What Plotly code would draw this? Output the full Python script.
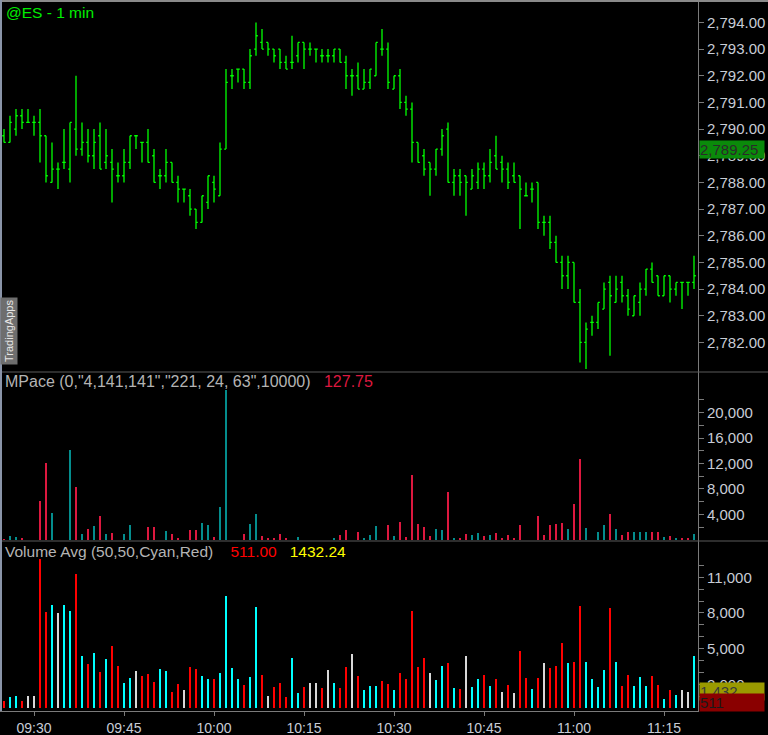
import pandas as pd
import plotly.graph_objects as go
from plotly.subplots import make_subplots

# ---------------- data ----------------
start_time = "2018-06-01 09:25"
n_bars = 116
times = pd.date_range(start_time, periods=n_bars, freq="1min")

opens = [2789.75, 2789.5, 2790.0, 2790.5, 2790.25, 2790.25, 2790.25, 2789.75, 2788.0, 2788.5,
         2788.75, 2788.5, 2790.0, 2789.25, 2789.5, 2789.0, 2789.75, 2788.75, 2788.75, 2788.25,
         2788.25, 2788.75, 2789.75, 2789.5, 2789.5, 2789.0, 2788.25, 2788.25, 2788.75, 2788.0,
         2787.75, 2787.5, 2787.0, 2786.5, 2787.25, 2788.0, 2787.5, 2789.25, 2792.0, 2792.25,
         2792.25, 2791.75, 2793.0, 2793.25, 2793.25, 2793.0, 2793.0, 2792.5, 2792.5, 2792.75,
         2793.25, 2793.0, 2793.0, 2792.75, 2792.75, 2792.75, 2793.0, 2792.5, 2792.0, 2792.0,
         2791.5, 2791.75, 2792.0, 2793.0, 2793.0, 2791.5, 2792.0, 2791.0, 2790.75, 2789.5,
         2789.0, 2788.75, 2788.5, 2789.25, 2790.0, 2788.0, 2788.25, 2788.25, 2787.75, 2788.0,
         2788.5, 2788.25, 2789.0, 2788.75, 2788.5, 2788.25, 2788.25, 2787.5, 2787.75, 2788.0,
         2786.5, 2786.5, 2785.75, 2785.0, 2784.5, 2785.0, 2783.5, 2782.0, 2782.75, 2782.75,
         2783.25, 2784.25, 2783.5, 2784.25, 2783.75, 2783.0, 2783.5, 2784.0, 2784.75, 2784.5,
         2783.75, 2784.5, 2784.0, 2784.25, 2784.25, 2784.25]
highs = [2790.0, 2790.5, 2790.75, 2790.75, 2790.75, 2790.5, 2790.75, 2789.75, 2789.5, 2788.75,
         2790.0, 2790.25, 2792.0, 2790.25, 2790.0, 2790.0, 2790.25, 2790.0, 2789.25, 2788.75,
         2789.25, 2789.75, 2789.75, 2789.5, 2790.0, 2789.25, 2788.5, 2789.25, 2788.75, 2788.25,
         2787.75, 2787.75, 2787.0, 2787.5, 2788.25, 2788.25, 2789.5, 2792.25, 2792.25, 2792.25,
         2792.25, 2793.0, 2794.0, 2793.75, 2793.25, 2793.0, 2793.0, 2792.75, 2793.5, 2793.25,
         2793.25, 2793.25, 2793.0, 2793.0, 2793.0, 2793.0, 2793.0, 2792.75, 2792.25, 2792.5,
         2792.25, 2792.25, 2793.25, 2793.75, 2793.25, 2792.0, 2792.25, 2791.25, 2791.0, 2789.5,
         2789.25, 2788.75, 2789.25, 2790.0, 2790.25, 2788.5, 2788.5, 2788.25, 2788.5, 2788.75,
         2788.75, 2789.25, 2789.75, 2789.0, 2788.75, 2788.75, 2788.25, 2788.0, 2788.0, 2788.0,
         2786.75, 2786.75, 2786.0, 2785.25, 2785.25, 2785.0, 2784.0, 2782.75, 2783.0, 2783.5,
         2784.25, 2784.5, 2784.5, 2784.5, 2784.0, 2783.75, 2784.25, 2784.75, 2785.0, 2784.5,
         2784.5, 2784.5, 2784.25, 2784.25, 2784.25, 2785.25]
lows = [2789.5, 2789.5, 2789.75, 2790.0, 2790.25, 2789.75, 2788.75, 2788.0, 2788.0, 2787.75,
        2788.5, 2788.0, 2789.0, 2789.0, 2788.75, 2788.5, 2788.5, 2788.5, 2787.25, 2788.0,
        2788.0, 2788.5, 2789.25, 2788.75, 2788.75, 2788.0, 2787.75, 2788.0, 2788.0, 2787.25,
        2787.25, 2786.75, 2786.25, 2786.5, 2787.0, 2787.25, 2787.5, 2789.25, 2791.5, 2791.75,
        2791.5, 2791.5, 2792.75, 2793.0, 2792.75, 2792.5, 2792.25, 2792.25, 2792.25, 2792.5,
        2792.25, 2792.75, 2792.5, 2792.5, 2792.5, 2792.5, 2792.5, 2791.5, 2791.25, 2791.5,
        2791.5, 2791.5, 2792.0, 2792.75, 2791.5, 2791.5, 2790.75, 2790.5, 2788.75, 2788.75,
        2788.25, 2787.5, 2788.25, 2789.0, 2788.0, 2787.5, 2787.5, 2786.75, 2787.75, 2787.75,
        2787.75, 2788.0, 2788.5, 2788.0, 2787.75, 2788.0, 2786.25, 2787.5, 2787.25, 2786.25,
        2786.0, 2785.5, 2785.0, 2784.0, 2784.0, 2783.5, 2781.25, 2781.0, 2782.25, 2782.5,
        2783.25, 2781.5, 2783.5, 2783.5, 2783.0, 2783.0, 2783.0, 2783.75, 2784.25, 2783.75,
        2783.75, 2783.5, 2783.75, 2783.25, 2783.75, 2784.0]
closes = [2789.5, 2790.25, 2790.5, 2790.25, 2790.25, 2790.25, 2789.75, 2788.25, 2788.5, 2788.5,
          2788.75, 2790.25, 2789.25, 2789.5, 2789.0, 2789.5, 2788.5, 2789.0, 2788.5, 2788.25,
          2788.75, 2789.75, 2789.75, 2789.5, 2788.75, 2788.0, 2788.25, 2788.75, 2788.0, 2787.75,
          2787.75, 2787.0, 2786.5, 2787.5, 2788.25, 2787.75, 2789.25, 2791.75, 2792.0, 2792.25,
          2791.75, 2792.75, 2793.5, 2793.0, 2793.0, 2792.75, 2792.5, 2792.25, 2792.5, 2793.25,
          2793.0, 2793.0, 2793.0, 2792.75, 2792.75, 2793.0, 2792.5, 2792.0, 2792.0, 2791.5,
          2791.75, 2792.25, 2793.25, 2793.0, 2791.75, 2792.0, 2791.0, 2790.75, 2789.5, 2788.75,
          2788.5, 2788.5, 2789.25, 2789.75, 2788.0, 2788.25, 2788.0, 2788.0, 2788.25, 2788.5,
          2788.25, 2788.75, 2788.5, 2788.5, 2788.0, 2788.0, 2787.75, 2787.5, 2787.75, 2786.5,
          2786.5, 2785.75, 2785.0, 2784.5, 2785.0, 2783.5, 2782.0, 2782.5, 2782.75, 2783.5,
          2784.0, 2783.75, 2784.0, 2783.75, 2783.25, 2783.75, 2784.0, 2784.75, 2784.25, 2783.75,
          2784.5, 2784.0, 2784.25, 2784.25, 2784.25, 2784.5]

mpace = [100, 630, 470, 150, 0, 0, 6140, 12130, 4200, 0,
         0, 14120, 8350, 890, 1680, 2150, 3780, 945, 1050, 0,
         945, 2310, 0, 0, 2050, 2050, 0, 1365, 890, 315,
         0, 1520, 1520, 2680, 2310, 470, 5200, 23570, 0, 0,
         890, 2470, 4040, 580, 315, 315, 890, 315, 0, 420,
         0, 0, 0, 0, 0, 260, 790, 1520, 0, 1210,
         315, 790, 2200, 0, 2310, 630, 2780, 420, 10185, 2470,
         2050, 630, 1680, 1520, 7500, 210, 210, 890, 735, 1050,
         630, 735, 1050, 315, 735, 315, 2310, 0, 0, 3730,
         735, 2310, 2470, 2625, 1680, 5620, 12700, 1840, 0, 1210,
         2310, 4040, 1680, 735, 1210, 1210, 1210, 1210, 1210, 1210,
         420, 580, 260, 260, 260, 890]

volume = [590, 925, 1010, 590, 1010, 1010, 12520, 8060, 8650, 7980,
          8650, 8180, 11260, 4370, 3700, 4620, 3020, 4120, 5210, 3530,
          2100, 2520, 3110, 2690, 2860, 2180, 3280, 3110, 1340, 2020,
          1510, 3440, 3280, 2690, 2440, 2440, 2940, 9410, 3360, 2440,
          1930, 2600, 8480, 2770, 1010, 1760, 2100, 920, 4200, 1260,
          1760, 2100, 2100, 1680, 3190, 2100, 1680, 3440, 4540, 2690,
          1510, 1850, 1850, 2270, 2020, 1510, 2940, 2440, 8150, 3440,
          4200, 2940, 2350, 3530, 3780, 1680, 1600, 4370, 1760, 2440,
          2770, 1850, 2440, 1340, 1930, 1260, 4790, 2520, 1600, 2520,
          3780, 3360, 3530, 5460, 3780, 3860, 8570, 3860, 2440, 1760,
          3190, 8400, 3860, 1850, 2770, 1850, 2600, 1850, 2690, 1930,
          760, 1510, 1090, 1510, 1340, 4370]

price_ticks = [2782, 2783, 2784, 2785, 2786, 2787, 2788, 2789, 2790, 2791, 2792, 2793, 2794]
mpace_ticks = [4000, 8000, 12000, 16000, 20000]
mpace_minor = [2000, 4000, 6000, 8000, 10000, 12000, 14000, 16000, 18000, 20000, 22000]
vol_ticks = [2000, 5000, 8000, 11000]
vol_minor = [1000, 2000, 3000, 4000, 5000, 6000, 7000, 8000, 9000, 10000, 11000, 12000]

last_price_marker = 2789.25
vol_avg_value = 1432.24
vol_last_value = 511.00
mpace_value = 127.75

# ---------------- colours ----------------
GREEN = "#00ff00"
TEAL = "rgb(4,141,141)"
CRIMSON = "rgb(221,24,63)"
AXIS = "#7a7a7a"
LABEL = "#c8ccd6"
TITLE = "#b4b4b4"
FONT = "Liberation Sans, Arial, sans-serif"

mp_colors = [TEAL if c > o else CRIMSON for o, c in zip(opens, closes)]
vol_colors = []
for i, c in enumerate(closes):
    if i == 0:
        vol_colors.append("#ff0000")
    elif c > closes[i - 1]:
        vol_colors.append("#00ffff")
    elif c < closes[i - 1]:
        vol_colors.append("#ff0000")
    else:
        vol_colors.append("#d8d8d8")

# ---------------- figure ----------------
fig = make_subplots(rows=3, cols=1, shared_xaxes=True, vertical_spacing=0)

fig.add_trace(go.Ohlc(x=times, open=opens, high=highs, low=lows, close=closes,
                      increasing=dict(line=dict(color=GREEN, width=1.3)),
                      decreasing=dict(line=dict(color=GREEN, width=1.3)),
                      tickwidth=0.3, hoverinfo="skip"), row=1, col=1)
fig.add_trace(go.Bar(x=times, y=mpace, marker=dict(color=mp_colors, line=dict(width=0)),
                     width=19000, hoverinfo="skip"), row=2, col=1)
fig.add_trace(go.Bar(x=times, y=volume, marker=dict(color=vol_colors, line=dict(width=0)),
                     width=12000, hoverinfo="skip"), row=3, col=1)

PLOT_W = 698.0
PLOT_H = 711.0
def py(px):  # pixel y (from top) -> paper y
    return (PLOT_H - px) / PLOT_H
def pxx(px):
    return px / PLOT_W

x_range = ["2018-06-01 09:24:20", "2018-06-01 11:20:40"]

fig.update_layout(
    width=768, height=735,
    margin=dict(l=0, r=70, t=0, b=24, autoexpand=False),
    paper_bgcolor="black", plot_bgcolor="black",
    showlegend=False, bargap=0,
    font=dict(family=FONT, color=LABEL, size=14),
)

for i in (1, 2, 3):
    fig.update_xaxes(row=i, col=1, range=x_range, showgrid=False, zeroline=False,
                     rangeslider_visible=False, domain=[0, 1], automargin=False)

fig.update_xaxes(row=1, col=1, showticklabels=False, ticks="")
fig.update_xaxes(row=2, col=1, showticklabels=False, ticks="")
fig.update_xaxes(row=3, col=1, showticklabels=True, tickformat="%H:%M",
                 tick0="2018-06-01 09:30", dtick=900000, ticks="outside", ticklen=4,
                 tickcolor=AXIS, showline=True, linecolor=AXIS, linewidth=1,
                 tickfont=dict(size=14, color=LABEL, family=FONT))

common_y = dict(side="right", showgrid=False, zeroline=False, ticks="outside", ticklen=5,
                tickcolor=AXIS, showline=True, linecolor=AXIS, linewidth=1, automargin=False,
                tickfont=dict(size=15, color=LABEL, family=FONT))

fig.update_yaxes(row=1, col=1, domain=[py(372), 1.0], range=[2780.89, 2794.84],
                 tickmode="array", tickvals=price_ticks,
                 ticktext=[f"{v:,.2f}" for v in price_ticks], **common_y)
fig.update_yaxes(row=2, col=1, domain=[py(541), py(372)], range=[-200, 26400],
                 tickmode="array", tickvals=mpace_ticks,
                 ticktext=[f"{v:,}" for v in mpace_ticks],
                 minor=dict(tickmode="array", tickvals=mpace_minor, ticks="outside",
                            ticklen=5, tickcolor=AXIS), **common_y)
fig.update_yaxes(row=3, col=1, domain=[0, py(541)], range=[-240, 14050],
                 tickmode="array", tickvals=vol_ticks,
                 ticktext=[f"{v:,}" for v in vol_ticks],
                 minor=dict(tickmode="array", tickvals=vol_minor, ticks="outside",
                            ticklen=5, tickcolor=AXIS), **common_y)

# ---------------- borders / separators ----------------
right_edge = 768 / PLOT_W
shapes = [
    dict(type="line", xref="paper", yref="paper", x0=0, x1=right_edge, y0=py(372), y1=py(372),
         line=dict(color="#5a5a5a", width=1)),
    dict(type="line", xref="paper", yref="paper", x0=0, x1=right_edge, y0=py(541), y1=py(541),
         line=dict(color="#5a5a5a", width=1)),
    dict(type="line", xref="paper", yref="paper", x0=0, x1=right_edge, y0=py(1), y1=py(1),
         line=dict(color="#8a8a8a", width=2)),
    dict(type="line", xref="paper", yref="paper", x0=pxx(1), x1=pxx(1), y0=0, y1=1,
         line=dict(color="#8a94a8", width=2)),
]
fig.update_layout(shapes=shapes)

# ---------------- annotations ----------------
ann = []
ann.append(dict(xref="paper", yref="paper", x=pxx(4), y=py(13), xanchor="left", yanchor="middle",
                text="@ES - 1 min", showarrow=False,
                font=dict(family=FONT, size=15.5, color="#00ee00")))
ann.append(dict(xref="paper", yref="paper", x=pxx(3), y=py(381), xanchor="left", yanchor="middle",
                text="MPace (0,\"4,141,141\",\"221, 24, 63\",10000)&nbsp;&nbsp;&nbsp;"
                     f"<span style='color:{CRIMSON}'>{mpace_value:.2f}</span>",
                showarrow=False, font=dict(family=FONT, size=16, color=TITLE)))
ann.append(dict(xref="paper", yref="paper", x=pxx(3), y=py(551), xanchor="left", yanchor="middle",
                text="Volume Avg (50,50,Cyan,Red)&nbsp;&nbsp;&nbsp;&nbsp;"
                     f"<span style='color:#ff0000'>{vol_last_value:.2f}</span>&nbsp;&nbsp;&nbsp;"
                     f"<span style='color:#ffff00'>{vol_avg_value:.2f}</span>",
                showarrow=False, font=dict(family=FONT, size=15.5, color=TITLE)))
ann.append(dict(xref="paper", yref="paper", x=0, y=py(331), xanchor="left", yanchor="middle",
                text="TradingApps", textangle=-90, showarrow=False, bgcolor="#6e6e6e",
                borderpad=2, font=dict(family=FONT, size=11, color="#e6e6e6")))
# right-side value markers
ann.append(dict(xref="paper", yref="y", x=pxx(699), y=last_price_marker, xanchor="left",
                yanchor="middle", text=f"{last_price_marker:,.2f}", showarrow=False,
                bgcolor="#0a8a0a", width=64, align="left", borderpad=0,
                font=dict(family=FONT, size=15, color="#2a2a2a")))
ann.append(dict(xref="paper", yref="y3", x=pxx(699), y=vol_avg_value, xanchor="left",
                yanchor="middle", text=f"{vol_avg_value:,.0f}", showarrow=False,
                bgcolor="#9a9a00", width=64, align="left", borderpad=0,
                font=dict(family=FONT, size=15, color="#3a3a3a")))
ann.append(dict(xref="paper", yref="y3", x=pxx(699), y=vol_last_value, xanchor="left",
                yanchor="middle", text=f"{vol_last_value:,.0f}", showarrow=False,
                bgcolor="#8a0000", width=64, align="left", borderpad=0,
                font=dict(family=FONT, size=15, color="#1a1a1a")))
fig.update_layout(annotations=ann)

fig.write_html("out.html", config={"displayModeBar": False},
               post_script="document.body.style.margin='0px';document.body.style.background='black';")
